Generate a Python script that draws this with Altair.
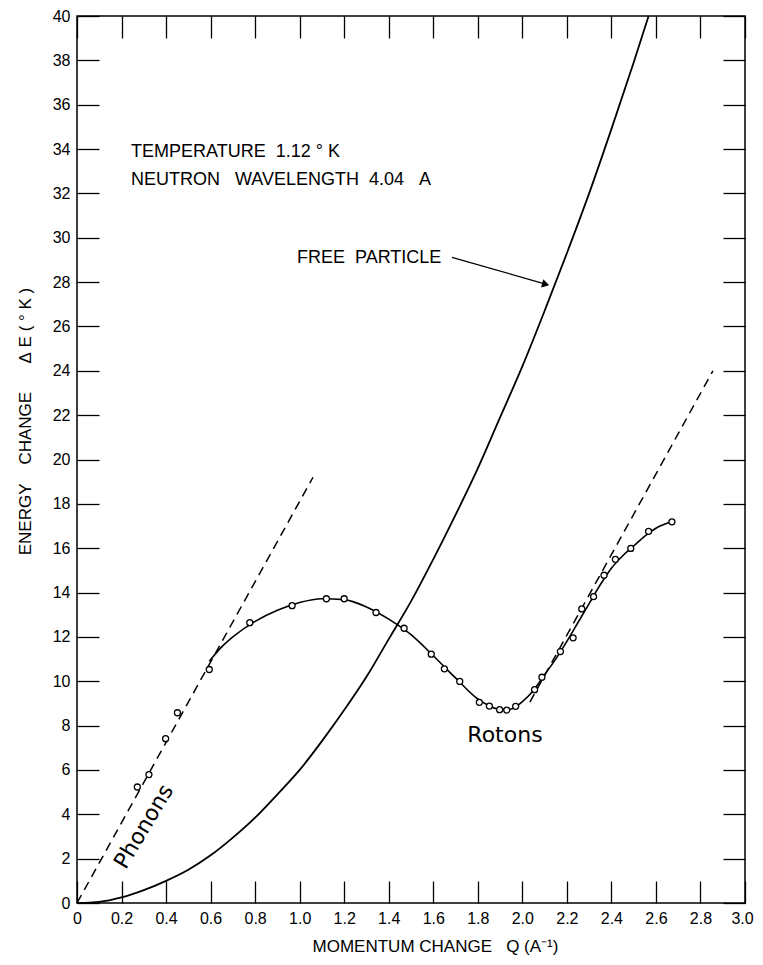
import altair as alt
import pandas as pd

# ---------------- data ----------------
# free-particle curve
fp_q = [0.0, 0.1, 0.2, 0.3, 0.4, 0.5, 0.6, 0.7, 0.8, 0.9, 1.0, 1.1, 1.2, 1.3,
        1.4, 1.5, 1.6, 1.7, 1.8, 1.9, 2.0, 2.1, 2.2, 2.3, 2.4, 2.5, 2.567]
fp_e = [0.0, 0.05, 0.25, 0.58, 1.0, 1.5, 2.15, 2.95, 3.85, 4.9, 6.0, 7.3, 8.7, 10.2,
        11.9, 13.6, 15.5, 17.5, 19.6, 21.9, 24.2, 26.7, 29.3, 32.0, 34.9, 37.9, 40.0]

# measured points (open circles)
pt_q = [0.271, 0.323, 0.398, 0.451, 0.594, 0.776, 0.966, 1.12, 1.20, 1.343,
        1.469, 1.591, 1.650, 1.719, 1.807, 1.852, 1.898, 1.930, 1.970, 2.055,
        2.088, 2.171, 2.228, 2.267, 2.320, 2.367, 2.418, 2.487, 2.567, 2.672]
pt_e = [5.23, 5.79, 7.41, 8.58, 10.53, 12.64, 13.41, 13.72, 13.72, 13.10,
        12.39, 11.22, 10.56, 9.99, 9.05, 8.88, 8.72, 8.70, 8.87, 9.62,
        10.18, 11.34, 11.96, 13.26, 13.82, 14.78, 15.50, 15.99, 16.76, 17.19]

# smooth curve through the measurements
cv_q = [0.594, 0.65, 0.7, 0.8, 0.9, 1.0, 1.1, 1.2, 1.3, 1.4, 1.5, 1.6, 1.7,
        1.8, 1.85, 1.9, 1.95, 2.0, 2.05, 2.1, 2.15, 2.2, 2.25, 2.3, 2.35, 2.4,
        2.45, 2.5, 2.55, 2.6, 2.672]
cv_e = [10.9, 11.55, 12.0, 12.7, 13.2, 13.55, 13.72, 13.68, 13.35, 12.8, 12.1, 11.15, 10.15,
        9.2, 8.9, 8.72, 8.75, 9.08, 9.58, 10.3, 11.0, 11.8, 12.65, 13.5, 14.35, 15.1,
        15.65, 16.1, 16.55, 16.9, 17.2]

# dashed straight lines
phonon_q = [0.0, 1.06]
phonon_e = [0.0, 19.2]
roton_q = [2.034, 2.856]
roton_e = [9.06, 24.0]

# axis ticks
x_ticks = [0, 0.2, 0.4, 0.6, 0.8, 1.0, 1.2, 1.4, 1.6, 1.8, 2.0, 2.2, 2.4, 2.6, 2.8, 3.0]
y_ticks = [0, 2, 4, 6, 8, 10, 12, 14, 16, 18, 20, 22, 24, 26, 28, 30, 32, 34, 36, 38, 40]

NB = "\u00a0"
# annotations
note_text = ["TEMPERATURE" + NB * 2 + "1.12" + NB + "\u00b0" + NB + "K",
             "NEUTRON" + NB * 3 + "WAVELENGTH" + NB * 2 + "4.04" + NB * 3 + "A",
             "FREE" + NB * 2 + "PARTICLE"]
note_q = [0.2425, 0.2425, 0.988]
note_e = [33.62, 32.40, 28.86]
arrow_q = [1.684, 2.10]
arrow_e = [29.12, 27.92]
head_q = [2.105]
head_e = [27.9]

FONT = "Liberation Sans"
BLACK = "black"

xs = alt.Scale(domain=[0, 3], nice=False, zero=False)
ys = alt.Scale(domain=[0, 40], nice=False, zero=False)

x_bottom = alt.Axis(
    orient="bottom", values=x_ticks,
    labelExpr="datum.value == 0 ? '0' : format(datum.value, '.1f')",
    labelOffset={"condition": {"test": "datum.value >= 3", "value": -3}, "value": 0},
    tickSize=22, offset=-22, domain=False, grid=False,
    tickColor=BLACK, tickWidth=1.3, labelFont=FONT, labelFontSize=16,
    labelColor=BLACK, labelPadding=7, labelFlush=False,
    title="MOMENTUM" + NB + "CHANGE" + NB * 3 + "Q" + NB + "(A\u207b\u00b9)",
    titleFont=FONT, titleFontSize=17, titleX=358,
    titleFontWeight="normal", titleColor=BLACK, titlePadding=12,
)
y_left = alt.Axis(
    orient="left", values=y_ticks, format="d",
    tickSize=22, offset=-22, domain=False, grid=False,
    tickColor=BLACK, tickWidth=1.3, labelFont=FONT, labelFontSize=16,
    labelColor=BLACK, labelPadding=7, labelFlush=False,
    title="ENERGY" + NB * 4 + "CHANGE" + NB * 6 + "\u0394" + NB + "E" + NB + "(" + NB + "\u00b0" + NB + "K" + NB + ")",
    titleFont=FONT, titleFontSize=17, titleY=405,
    titleFontWeight="normal", titleColor=BLACK, titlePadding=18,
)
x_top = alt.Axis(orient="top", values=x_ticks, labels=False, tickSize=22, offset=-22,
                 domain=False, grid=False, tickColor=BLACK, tickWidth=1.3, title=None)
y_right = alt.Axis(orient="right", values=y_ticks, labels=False, tickSize=22, offset=-22,
                   domain=False, grid=False, tickColor=BLACK, tickWidth=1.3, title=None)

fp_df = pd.DataFrame({"q": fp_q, "e": fp_e})
pt_df = pd.DataFrame({"q": pt_q, "e": pt_e})
cv_df = pd.DataFrame({"q": cv_q, "e": cv_e})
ph_df = pd.DataFrame({"q": phonon_q, "e": phonon_e})
ro_df = pd.DataFrame({"q": roton_q, "e": roton_e})
note_df = pd.DataFrame({"q": note_q, "e": note_e, "t": note_text})
arrow_df = pd.DataFrame({"q": arrow_q, "e": arrow_e})
head_df = pd.DataFrame({"q": head_q, "e": head_e})
rot_df = pd.DataFrame({"q": [1.922], "e": [7.58], "t": ["Rotons"]})
pho_df = pd.DataFrame({"q": [0.30], "e": [3.45], "t": ["Phonons"]})


def X(axis=None):
    return alt.X("q:Q", scale=xs, axis=axis)


def Y(axis=None):
    return alt.Y("e:Q", scale=ys, axis=axis)


free = alt.Chart(fp_df).mark_line(color=BLACK, strokeWidth=1.8, interpolate="monotone").encode(
    x=X(x_bottom), y=Y(y_left))
frame_ticks = alt.Chart(fp_df).mark_point(opacity=0).encode(x=X(x_top), y=Y(y_right))
curve = alt.Chart(cv_df).mark_line(color=BLACK, strokeWidth=1.6, interpolate="monotone").encode(
    x=X(), y=Y())
phonon = alt.Chart(ph_df).mark_line(color=BLACK, strokeWidth=1.5, strokeDash=[9, 6]).encode(
    x=X(), y=Y())
roton = alt.Chart(ro_df).mark_line(color=BLACK, strokeWidth=1.5, strokeDash=[9, 6]).encode(
    x=X(), y=Y())
points = alt.Chart(pt_df).mark_point(shape="circle", size=36, filled=False, color=BLACK,
                                     strokeWidth=1.3, fill="white", fillOpacity=1).encode(
    x=X(), y=Y())
notes = alt.Chart(note_df).mark_text(align="left", baseline="alphabetic", font=FONT,
                                     fontSize=18, color=BLACK).encode(x=X(), y=Y(), text="t:N")
arrow = alt.Chart(arrow_df).mark_line(color=BLACK, strokeWidth=1.3).encode(x=X(), y=Y())
head = alt.Chart(head_df).mark_point(shape="triangle-right", angle=15, size=70, filled=True,
                                     color=BLACK, opacity=1).encode(x=X(), y=Y())
rot_txt = alt.Chart(rot_df).mark_text(align="center", baseline="middle", font="DejaVu Sans",
                                      fontSize=22, color=BLACK).encode(x=X(), y=Y(), text="t:N")
pho_txt = alt.Chart(pho_df).mark_text(align="center", baseline="middle", font="DejaVu Sans",
                                      fontSize=22, angle=301, color=BLACK).encode(x=X(), y=Y(), text="t:N")

chart = alt.layer(
    free, frame_ticks, phonon, roton, curve, points, notes, arrow, head, rot_txt, pho_txt
).resolve_axis(x="independent", y="independent").properties(
    width=668, height=887,
    autosize=alt.AutoSizeParams(type="none"),
    padding={"left": 69, "top": 8, "right": 10, "bottom": 54},
    background="white",
).configure_view(stroke=BLACK, strokeWidth=1.5)

chart.save("out.html", embed_options={"renderer": "svg", "actions": False})
